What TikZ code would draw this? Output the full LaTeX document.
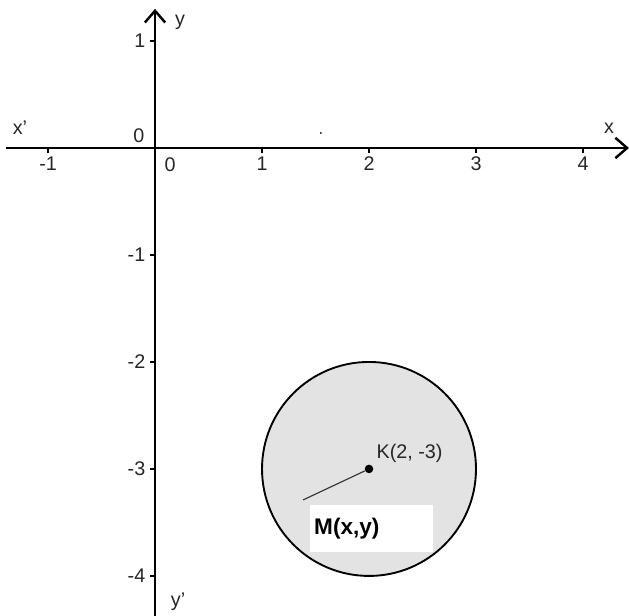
\documentclass[tikz,border=0pt]{standalone}
\usepackage{fontspec}
\setmainfont{Liberation Sans}
\usetikzlibrary{arrows.meta}

\begin{document}
\begin{tikzpicture}[
    x=2cm, y=2cm,
    font=\fontsize{10.5}{12}\selectfont,
    axis/.style={line width=1.3pt, -{Straight Barb[length=2.2mm, width=3.8mm, line width=1.3pt]}},
    tickmark/.style={line width=1pt},
    ticklabel/.style={inner sep=1pt, text=black!85},
    disc/.style={draw, line width=1pt, fill=black!11},
    centre/.style={circle, fill, inner sep=0pt, minimum size=1.6mm},
    mbox/.style={fill=white, minimum width=2.3cm, minimum height=0.88cm,
      inner xsep=0.08cm, text width=2.14cm, align=left, font=\fontsize{12}{14}\selectfont\bfseries}
  ]
    \useasboundingbox (-1.449,-4.374) rectangle (4.430,1.383);

    % axes
    \coordinate (xs) at (-1.393,0);
    \coordinate (xe) at (4.43,0);
    \coordinate (ys) at (0,-4.374);
    \coordinate (ye) at (0,1.30);
    \draw[axis] (xs) -- (xe);
    \draw[axis] (ys) -- (ye);

    \node[ticklabel] (xname) at (-1.262,0.187) {x'};
    \node[ticklabel] (xprime) at (4.243,0.187) {x};
    \node[ticklabel] (yname) at (0.234,1.178) {y};
    \node[ticklabel] (yprime) at (0.215,-4.243) {y'};

    % ticks
    \foreach \i in {-1,1,2,3,4} {
      \draw[tickmark] (\i,0) -- (\i,-0.05);
      \node[ticklabel, anchor=north] (xt\i) at (\i,-0.06) {\i};
    }
    \foreach \j in {1,-1,-2,-3,-4} {
      \draw[tickmark] (0,\j) -- (-0.05,\j);
      \node[ticklabel, anchor=east] (yt\j) at (-0.07,\j) {\j};
    }
    \node[ticklabel] (origx) at (-0.15,0.11) {0};
    \node[ticklabel] (origy) at (0.14,-0.16) {0};

    \node[circle, fill, inner sep=0pt, minimum size=1pt] (speck) at (1.55,0.14) {};

    % circle
    \draw[disc] (2,-3) circle (1);
    \node[centre] (K) at (2,-3) {};
    \node[ticklabel, anchor=west] (Klabel) at (2.05,-2.85) {K(2, -3)};
    \coordinate (M) at (1.383,-3.29);
    \draw[line width=0.6pt, black!80] (K) -- (M);
    \node[mbox] (Mlabel) at (2.023,-3.556) {M(x,y)};
  \end{tikzpicture}
\end{document}
